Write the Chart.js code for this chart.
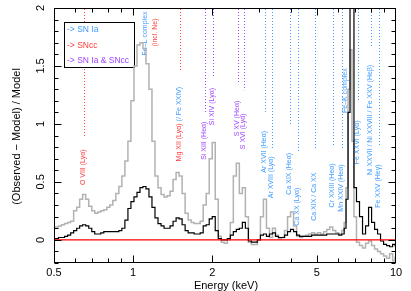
<!DOCTYPE html>
<html><head><meta charset="utf-8">
<script src="https://cdn.jsdelivr.net/npm/chart.js@4"></script>
<style>html,body{margin:0;padding:0;background:#fff}#wrap{width:411px;height:291px}</style>
</head><body><div id="wrap"><canvas id="c" width="411" height="291"></canvas></div>
<script>
// ---- data ----
const energy = [0.500,0.513,0.527,0.541,0.556,0.571,0.586,0.602,0.618,0.634,0.651,0.669,0.687,0.705,0.724,0.743,0.763,0.784,0.805,0.826,0.848,0.871,0.894,0.918,0.943,0.968,0.994,1.021,1.048,1.076,1.104,1.134,1.164,1.195,1.227,1.260,1.294,1.328,1.364,1.400,1.438,1.476,1.516,1.556,1.598,1.641,1.684,1.729,1.776,1.823,1.872,1.922,1.973,2.026,2.080,2.136,2.193,2.252,2.312,2.374,2.437,2.502,2.569,2.638,2.708,2.781,2.855,2.931,3.010,3.090,3.173,3.258,3.345,3.434,3.526,3.620,3.717,3.816,3.918,4.023,4.131,4.241,4.354,4.471,4.590,4.713,4.839,4.968,5.101,5.238,5.378,5.521,5.669,5.821,5.976,6.136,6.300,6.40,6.51,6.63,6.74,6.86,6.98,7.17,7.36,7.56,7.76,7.97,8.18,8.40,8.62,8.85,9.09,9.33,9.58,9.84,10.0];
const residualGray = [0.11,0.11,0.12,0.13,0.14,0.15,0.16,0.25,0.28,0.35,0.39,0.35,0.29,0.25,0.23,0.24,0.25,0.26,0.28,0.30,0.34,0.40,0.46,0.55,0.68,0.85,1.20,1.50,1.68,1.70,1.65,1.52,1.30,0.85,0.55,0.45,0.39,0.37,0.38,0.42,0.52,0.58,0.55,0.40,0.23,0.17,0.15,0.14,0.14,0.16,0.30,0.40,0.70,0.84,0.35,0.03,-0.02,-0.03,0.00,0.15,0.55,0.66,0.40,0.45,0.20,-0.02,-0.04,-0.04,0.00,0.20,0.35,0.10,0.02,0.10,0.04,0.01,0.02,0.08,0.20,0.24,0.12,0.03,0.02,0.03,0.04,0.05,0.06,0.05,0.06,0.05,0.07,0.09,0.11,0.08,0.06,0.05,0.08,0.15,0.45,1.30,1.64,0.85,0.20,-0.02,-0.05,-0.07,-0.03,-0.01,-0.05,-0.08,-0.10,-0.12,-0.14,-0.16,-0.12,-0.18,-0.15];
const residualBlack = [0.01,0.01,0.02,0.02,0.03,0.04,0.06,0.08,0.10,0.12,0.13,0.12,0.10,0.07,0.05,0.05,0.06,0.07,0.07,0.07,0.07,0.07,0.08,0.10,0.17,0.27,0.33,0.37,0.41,0.45,0.46,0.44,0.37,0.28,0.19,0.14,0.12,0.10,0.10,0.12,0.16,0.19,0.18,0.13,0.08,0.06,0.06,0.05,0.05,0.06,0.12,0.13,0.18,0.20,0.08,0.01,0.00,0.00,0.01,0.04,0.07,0.09,0.10,0.15,0.10,-0.01,-0.02,-0.02,0.00,0.04,0.05,0.03,0.05,0.06,0.03,0.02,0.02,0.04,0.07,0.09,0.07,0.04,0.03,0.03,0.03,0.03,0.04,0.04,0.04,0.04,0.04,0.05,0.05,0.05,0.05,0.04,0.05,0.10,0.35,1.10,2.40,2.40,0.45,0.33,0.20,0.05,0.12,0.28,0.15,0.09,0.05,-0.01,-0.04,-0.05,-0.06,-0.04,-0.05];
const xTicks = [0.5, 1, 2, 5, 10];
const yTicks = [0, 0.5, 1, 1.5, 2];
const legendRows = [['-> SN Ia', 'ia'], ['-> SNcc', 'cc'], ['-> SN Ia & SNcc', 'both']];
// line identifications: energy (keV), label parts [text, origin]
const lineEnergy = [0.651, 1.122, 1.225, 1.51, 1.869, 2.02, 2.50, 2.65, 3.17, 3.37, 3.94, 4.23, 4.91, 5.76, 6.23, 6.45, 7.17, 8.04, 8.62];
const lineText = [
  [['O VIII (Ly\u03b1)', 'cc']],
  [['Fe\u2013L complex', 'ia']],
  [['(incl. Ne)', 'cc']],
  [['Mg XII (Ly\u03b1)', 'cc'], [' (/ Fe XXIV)', 'ia']],
  [['Si XIII (He\u03b1)', 'both']],
  [['Si XIV (Ly\u03b1)', 'both']],
  [['S XV (He\u03b1)', 'both']],
  [['S XVI (Ly\u03b1)', 'both']],
  [['Ar XVII (He\u03b1)', 'ia']],
  [['Ar XVIII (Ly\u03b1)', 'ia']],
  [['Ca XIX (He\u03b1)', 'ia']],
  [['Ca XX (Ly\u03b1)', 'ia']],
  [['Ca XIX / Ca XX', 'ia']],
  [['Cr XXIII (He\u03b1)', 'ia']],
  [['Mn XXIV (He\u03b1)', 'ia']],
  [['Fe\u2013K complex', 'ia']],
  [['Fe XXVI (Ly\u03b1)', 'ia']],
  [['Ni XXVII / Ni XXVIII / Fe XXV (He\u03b2)', 'ia']],
  [['Fe XXV (He\u03b3)', 'ia']]
];
// annotation layout (in y-axis units): where each dotted marker ends and where its label starts
const markerEnd = [0.89, null, null, 1.45, 1.095, 1.40, 1.35, 1.29, 1.10, 0.79, 1.00, 0.75, 0.79, 0.80, 0.79, null, 1.20, 1.66, 0.80];
const labelTop  = [0.78, 1.97, 1.91, 1.32, 1.02, 1.31, 1.20, 1.09, 0.94, 0.72, 0.75, 0.45, 0.58, 0.66, 0.65, 1.48, 1.03, 1.51, 0.65];

// ---- styles ----
const COL = { ia: '#3d9bff', cc: '#ff3b3b', both: '#a045ff' };
const FONT = '"Liberation Sans", Arial, Helvetica, sans-serif';

const annot = {
  id: 'annot',
  beforeDatasetsDraw(chart) {
    const { ctx, chartArea: a, scales: { x, y } } = chart;
    ctx.save();
    ctx.beginPath(); ctx.rect(a.left, a.top, a.width, a.height); ctx.clip();
    ctx.font = '7px ' + FONT;
    lineEnergy.forEach((e, i) => {
      const px = Math.round(x.getPixelForValue(e)) + 0.5;
      const parts = lineText[i];
      if (markerEnd[i] !== null) {
        ctx.strokeStyle = COL[parts[0][1]];
        ctx.lineWidth = 1; ctx.setLineDash([1, 2]);
        ctx.beginPath(); ctx.moveTo(px, a.top + 1); ctx.lineTo(px, y.getPixelForValue(markerEnd[i])); ctx.stroke();
      }
      ctx.save();
      ctx.translate(px - 1.5, y.getPixelForValue(labelTop[i]));
      ctx.rotate(-Math.PI / 2);
      ctx.textAlign = 'right'; ctx.textBaseline = 'middle';
      let off = 0;
      for (let k = parts.length - 1; k >= 0; k--) {
        ctx.fillStyle = COL[parts[k][1]];
        ctx.fillText(parts[k][0], -off, 0);
        off += ctx.measureText(parts[k][0]).width;
      }
      ctx.restore();
    });
    ctx.setLineDash([]);
    // legend box
    ctx.fillStyle = '#fff'; ctx.strokeStyle = '#000'; ctx.lineWidth = 1;
    ctx.fillRect(64.5, 22.5, 70, 45); ctx.strokeRect(64.5, 22.5, 70, 45);
    ctx.font = '8.5px ' + FONT; ctx.textAlign = 'left'; ctx.textBaseline = 'middle';
    legendRows.forEach((r, i) => { ctx.fillStyle = COL[r[1]]; ctx.fillText(r[0], 67, 30 + i * 15.5); });
    ctx.restore();
  },
  afterDraw(chart) {
    const { ctx, chartArea: a, scales: { x, y } } = chart;
    ctx.save();
    ctx.strokeStyle = '#000'; ctx.lineWidth = 1;
    const L = Math.round(a.left) + 0.5, R = Math.round(a.right) - 0.5, T = Math.round(a.top) + 0.5, B = Math.round(a.bottom) - 0.5;
    ctx.strokeRect(L, T, R - L, B - T);
    ctx.beginPath();
    for (let i = -2; i <= 20; i++) {
      const v = i / 10, py = Math.round(y.getPixelForValue(v)) + 0.5;
      const len = (i % 5 === 0) ? 7 : 4;
      ctx.moveTo(L, py); ctx.lineTo(L + len, py);
      ctx.moveTo(R, py); ctx.lineTo(R - len, py);
    }
    const xMinor = [0.6, 0.7, 0.8, 0.9, 3, 4, 6, 7, 8, 9];
    [1, 2, 5].forEach(v => { const px = Math.round(x.getPixelForValue(v)) + 0.5; ctx.moveTo(px, B); ctx.lineTo(px, B - 7); ctx.moveTo(px, T); ctx.lineTo(px, T + 7); });
    xMinor.forEach(v => { const px = Math.round(x.getPixelForValue(v)) + 0.5; ctx.moveTo(px, B); ctx.lineTo(px, B - 4); ctx.moveTo(px, T); ctx.lineTo(px, T + 4); });
    ctx.stroke();
    // y tick labels (rotated)
    ctx.fillStyle = '#000'; ctx.font = '11px ' + FONT; ctx.textAlign = 'center'; ctx.textBaseline = 'middle';
    yTicks.forEach(v => {
      ctx.save(); ctx.translate(41, y.getPixelForValue(v)); ctx.rotate(-Math.PI / 2);
      ctx.fillText(String(v), 0, 0); ctx.restore();
    });
    // axis titles
    ctx.save(); ctx.translate(17, (a.top + a.bottom) / 2 + 1); ctx.rotate(-Math.PI / 2);
    ctx.fillText('(Observed \u2212 Model) / Model', 0, 0); ctx.restore();
    ctx.fillText('Energy (keV)', (a.left + a.right) / 2 + 1, 286);
    ctx.restore();
  }
};

const pts = arr => energy.map((e, i) => ({ x: e, y: arr[i] }));
new Chart(document.getElementById('c'), {
  type: 'line',
  data: {
    datasets: [
      { data: [{ x: 0.5, y: 0 }, { x: 10, y: 0 }], borderColor: '#ff0000', borderWidth: 1.3, pointRadius: 0 },
      { data: pts(residualBlack), borderColor: '#000000', borderWidth: 1.2, pointRadius: 0, stepped: 'middle' },
      { data: pts(residualGray), borderColor: '#b2b2b2', borderWidth: 1.5, pointRadius: 0, stepped: 'middle' }
    ]
  },
  options: {
    responsive: false, animation: false, devicePixelRatio: 1, events: [],
    layout: { padding: { top: 8, right: 15, left: 0, bottom: 0 } },
    plugins: { legend: { display: false }, tooltip: { enabled: false } },
    scales: {
      x: {
        type: 'logarithmic', min: 0.5, max: 10,
        afterBuildTicks: s => { s.ticks = xTicks.map(v => ({ value: v })); },
        ticks: { font: { size: 11, family: FONT }, color: '#000', padding: 3, maxRotation: 0, autoSkip: false, callback: v => String(v) },
        grid: { display: false, drawTicks: false }, border: { display: false },
        afterFit: s => { s.height = 28; }
      },
      y: {
        type: 'linear', min: -0.2, max: 2,
        ticks: { display: false },
        grid: { display: false, drawTicks: false }, border: { display: false },
        afterFit: s => { s.width = 54; }
      }
    }
  },
  plugins: [annot]
});
</script></body></html>
